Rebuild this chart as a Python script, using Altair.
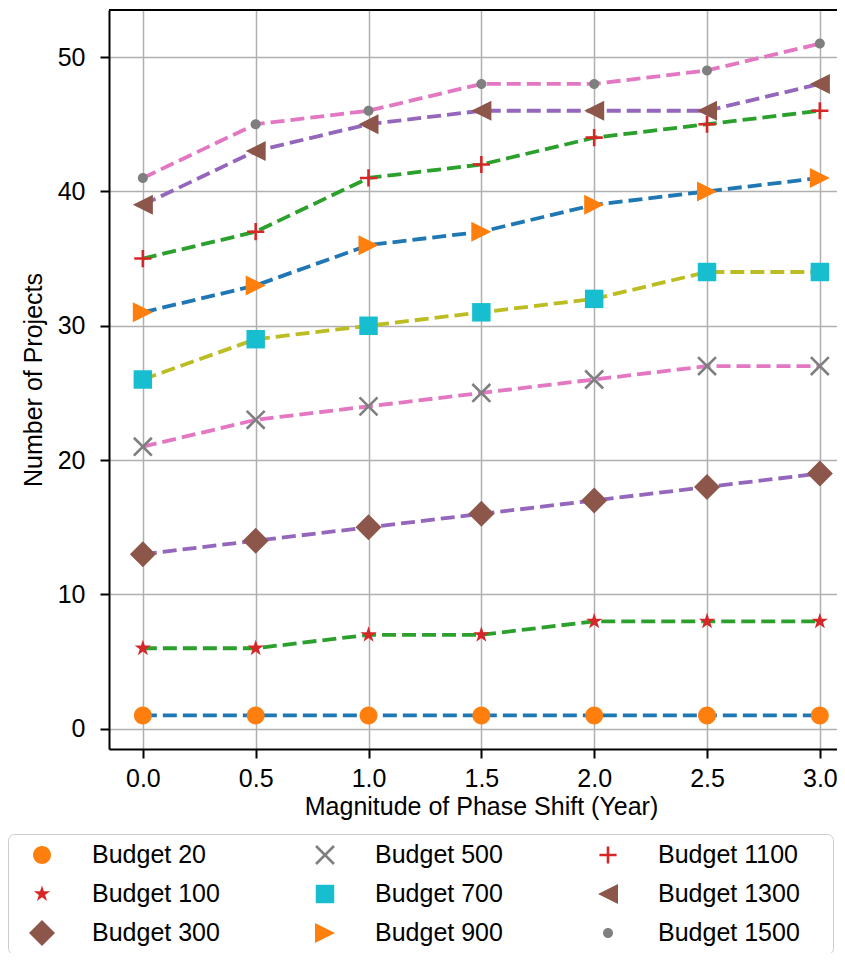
import math
import altair as alt
import pandas as pd

# ---------------- data ----------------
shift = [0.0, 0.5, 1.0, 1.5, 2.0, 2.5, 3.0]
budget_labels = ["Budget 20", "Budget 100", "Budget 300", "Budget 500", "Budget 700",
                 "Budget 900", "Budget 1100", "Budget 1300", "Budget 1500"]
b20 = [1, 1, 1, 1, 1, 1, 1]
b100 = [6, 6, 7, 7, 8, 8, 8]
b300 = [13, 14, 15, 16, 17, 18, 19]
b500 = [21, 23, 24, 25, 26, 27, 27]
b700 = [26, 29, 30, 31, 32, 34, 34]
b900 = [31, 33, 36, 37, 39, 40, 41]
b1100 = [35, 37, 41, 42, 44, 45, 46]
b1300 = [39, 43, 45, 46, 46, 46, 48]
b1500 = [41, 45, 46, 48, 48, 49, 51]
series = [b20, b100, b300, b500, b700, b900, b1100, b1300, b1500]

x_ticks = [0.0, 0.5, 1.0, 1.5, 2.0, 2.5, 3.0]
y_ticks = [0, 10, 20, 30, 40, 50]

# ---------------- styles ----------------
line_colors = ["#1f77b4", "#2ca02c", "#9467bd", "#e377c2", "#bcbd22",
               "#1f77b4", "#2ca02c", "#9467bd", "#e377c2"]
marker_colors = ["#ff7f0e", "#d62728", "#8c564b", "#7f7f7f", "#17becf",
                 "#ff7f0e", "#d62728", "#8c564b", "#7f7f7f"]


def f(v):
    return f"{v:.3f}"


def circle_path(r):
    return f"M{f(r)},0A{f(r)},{f(r)} 0 1,1 {f(-r)},0A{f(r)},{f(r)} 0 1,1 {f(r)},0Z"


def star_path(R, ratio=0.382):
    pts = []
    for i in range(10):
        a = math.radians(-90 + 36 * i)
        r = R if i % 2 == 0 else R * ratio
        pts.append((r * math.cos(a), r * math.sin(a)))
    return "M" + "L".join(f"{f(x)},{f(y)}" for x, y in pts) + "Z"


def diamond_path(r):
    return f"M0,{f(-r)}L{f(r)},0L0,{f(r)}L{f(-r)},0Z"


def square_path(r):
    return f"M{f(-r)},{f(-r)}L{f(r)},{f(-r)}L{f(r)},{f(r)}L{f(-r)},{f(r)}Z"


def x_path(r, t):
    d = t / math.sqrt(2)
    a = (f"M{f(r-d)},{f(r+d)}L{f(-r-d)},{f(-r+d)}L{f(-r+d)},{f(-r-d)}L{f(r+d)},{f(r-d)}Z")
    b = (f"M{f(-r-d)},{f(r-d)}L{f(r-d)},{f(-r-d)}L{f(r+d)},{f(-r+d)}L{f(-r+d)},{f(r+d)}Z")
    return a + b


def plus_path(r, t):
    return (f"M{f(-r)},{f(-t)}L{f(r)},{f(-t)}L{f(r)},{f(t)}L{f(-r)},{f(t)}Z"
            f"M{f(-t)},{f(-r)}L{f(t)},{f(-r)}L{f(t)},{f(r)}L{f(-t)},{f(r)}Z")


def tri_right(r):
    return f"M{f(r)},0L{f(-r)},{f(r)}L{f(-r)},{f(-r)}Z"


def tri_left(r):
    return f"M{f(-r)},0L{f(r)},{f(-r)}L{f(r)},{f(r)}Z"


# all symbols share one size (26 px box -> 13 px per path unit)
SYM_SIZE = 676
shapes = [circle_path(0.69), star_path(0.66), diamond_path(1.0), x_path(0.69, 0.1),
          square_path(0.71), tri_right(0.77), plus_path(0.66, 0.1), tri_left(0.77),
          circle_path(0.385)]

rows = []
for lab, vals in zip(budget_labels, series):
    for xv, yv in zip(shift, vals):
        rows.append({"shift": xv, "projects": yv, "budget": lab, "line": lab})
df = pd.DataFrame(rows)

FONT = "Liberation Sans"
FS = 25
W = 728
H = 739

x_enc = alt.X("shift:Q",
              scale=alt.Scale(domain=[-0.15, 3.076], nice=False, zero=False),
              axis=alt.Axis(values=x_ticks, format=".1f",
                            title="Magnitude of Phase Shift (Year)",
                            titleX=372, titlePadding=3, labelPadding=8))
y_enc = alt.Y("projects:Q",
              scale=alt.Scale(domain=[-1.5, 53.5], nice=False, zero=False),
              axis=alt.Axis(values=y_ticks, format="d",
                            title="Number of Projects",
                            titlePadding=11, labelPadding=15))

# the line-colour scale lists the series in reverse so that Vega-Lite does not
# merge its (hidden) legend with the marker legend
lines = alt.Chart(df).mark_line(strokeDash=[14, 6], strokeWidth=3.8).encode(
    x=x_enc, y=y_enc,
    detail="line:N",
    stroke=alt.Stroke("line:N",
                      scale=alt.Scale(domain=budget_labels[::-1], range=line_colors[::-1]),
                      legend=None),
)

points = alt.Chart(df).mark_point(filled=True, opacity=1, strokeWidth=0,
                                  size=SYM_SIZE).encode(
    x=x_enc, y=y_enc,
    color=alt.Color("budget:N",
                    scale=alt.Scale(domain=budget_labels, range=marker_colors),
                    legend=alt.Legend(
                        orient="none", legendX=-101, legendY=824,
                        direction="vertical", columns=3, gridAlign="all",
                        title="\u00a0", titleOrient="right", titleFontSize=8,
                        titlePadding=25,
                        padding=8, strokeColor="#cccccc", cornerRadius=6,
                        fillColor="white",
                        labelFont=FONT, labelFontSize=FS, labelColor="black",
                        labelLimit=400,
                        symbolSize=SYM_SIZE,
                        symbolOffset=13, labelOffset=37,
                        columnPadding=65, rowPadding=13,
                        symbolStrokeWidth=0, symbolOpacity=1)),
    shape=alt.Shape("budget:N", scale=alt.Scale(domain=budget_labels, range=shapes)),
)

top_border = alt.Chart(df).mark_rule(color="black", strokeWidth=2).encode(
    x=alt.value(0), x2=alt.value(W), y=alt.value(0))

chart = alt.layer(lines, points, top_border).properties(
    width=W, height=H,
    autosize=alt.AutoSizeParams(type="none"),
    padding={"left": 101, "top": 2, "right": 0, "bottom": 204},
).configure_view(stroke="transparent").configure_axis(
    labelFont=FONT, titleFont=FONT, labelFontSize=FS, titleFontSize=FS,
    labelColor="black", titleColor="black", titleFontWeight="normal",
    domainColor="black", domainWidth=2, tickColor="black", tickWidth=2, tickSize=9,
    gridColor="#b0b0b0", gridWidth=1.5, gridOpacity=1,
)

chart.save("out.html", embed_options={"renderer": "svg", "actions": False})
